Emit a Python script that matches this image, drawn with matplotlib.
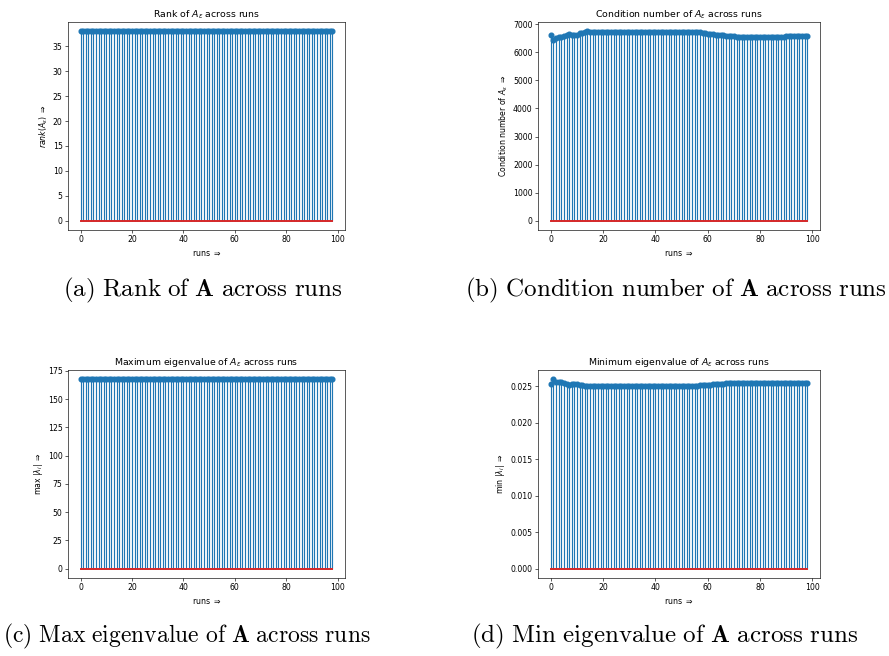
import matplotlib
matplotlib.use("Agg")
import matplotlib.pyplot as plt
import numpy as np

runs = list(range(99))

rank_vals = [38, 38, 38, 38, 38, 38, 38, 38, 38, 38, 38, 38, 38, 38, 38, 38, 38, 38, 38, 38,
             38, 38, 38, 38, 38, 38, 38, 38, 38, 38, 38, 38, 38, 38, 38, 38, 38, 38, 38, 38,
             38, 38, 38, 38, 38, 38, 38, 38, 38, 38, 38, 38, 38, 38, 38, 38, 38, 38, 38, 38,
             38, 38, 38, 38, 38, 38, 38, 38, 38, 38, 38, 38, 38, 38, 38, 38, 38, 38, 38, 38,
             38, 38, 38, 38, 38, 38, 38, 38, 38, 38, 38, 38, 38, 38, 38, 38, 38, 38, 38]

cond_vals = [6620, 6460, 6520, 6540, 6560, 6580, 6640, 6650, 6640, 6620,
             6630, 6680, 6710, 6730, 6750, 6740, 6730, 6730, 6720, 6720,
             6720, 6715, 6720, 6720, 6715, 6720, 6720, 6720, 6725, 6720,
             6725, 6730, 6740, 6740, 6745, 6740, 6740, 6735, 6725, 6720,
             6720, 6715, 6720, 6720, 6725, 6730, 6740, 6740, 6745, 6745,
             6740, 6740, 6745, 6740, 6740, 6740, 6735, 6720, 6700, 6680,
             6670, 6660, 6650, 6640, 6630, 6620, 6610, 6600, 6590, 6580,
             6570, 6560, 6555, 6550, 6550, 6550, 6550, 6550, 6550, 6550,
             6550, 6550, 6550, 6550, 6550, 6550, 6555, 6555, 6560, 6565,
             6570, 6575, 6580, 6580, 6580, 6580, 6580, 6580, 6580]

max_eig = [167.5, 167.5, 167.5, 167.5, 167.5, 167.5, 167.5, 167.5, 167.5, 167.5,
           167.5, 167.5, 167.5, 167.5, 167.5, 167.5, 167.5, 167.5, 167.5, 167.5,
           167.5, 167.5, 167.5, 167.5, 167.5, 167.5, 167.5, 167.5, 167.5, 167.5,
           167.5, 167.5, 167.5, 167.5, 167.5, 167.5, 167.5, 167.5, 167.5, 167.5,
           167.5, 167.5, 167.5, 167.5, 167.5, 167.5, 167.5, 167.5, 167.5, 167.5,
           167.5, 167.5, 167.5, 167.5, 167.5, 167.5, 167.5, 167.5, 167.5, 167.5,
           167.5, 167.5, 167.5, 167.5, 167.5, 167.5, 167.5, 167.5, 167.5, 167.5,
           167.5, 167.5, 167.5, 167.5, 167.5, 167.5, 167.5, 167.5, 167.5, 167.5,
           167.5, 167.5, 167.5, 167.5, 167.5, 167.5, 167.5, 167.5, 167.5, 167.5,
           167.5, 167.5, 167.5, 167.5, 167.5, 167.5, 167.5, 167.5, 167.5]

min_eig = [0.02525, 0.02590, 0.02560, 0.02550, 0.02555, 0.02545, 0.02525, 0.02515, 0.02525, 0.02530,
           0.02525, 0.02520, 0.02510, 0.02500, 0.02495, 0.02495, 0.02495, 0.02495, 0.02497, 0.02497,
           0.02498, 0.02498, 0.02498, 0.02497, 0.02497, 0.02498, 0.02497, 0.02496, 0.02495, 0.02497,
           0.02498, 0.02500, 0.02500, 0.02503, 0.02505, 0.02503, 0.02500, 0.02498, 0.02497, 0.02498,
           0.02500, 0.02497, 0.02495, 0.02495, 0.02496, 0.02497, 0.02497, 0.02496, 0.02495, 0.02495,
           0.02496, 0.02497, 0.02496, 0.02495, 0.02497, 0.02500, 0.02505, 0.02510, 0.02513, 0.02515,
           0.02518, 0.02520, 0.02522, 0.02525, 0.02527, 0.02530, 0.02532, 0.02535, 0.02537, 0.02539,
           0.02540, 0.02541, 0.02541, 0.02541, 0.02541, 0.02541, 0.02541, 0.02541, 0.02541, 0.02541,
           0.02541, 0.02541, 0.02541, 0.02541, 0.02541, 0.02541, 0.02541, 0.02541, 0.02541, 0.02540,
           0.02540, 0.02540, 0.02539, 0.02537, 0.02536, 0.02535, 0.02535, 0.02535, 0.02535]

titles = [r"Rank of $A_\epsilon$ across runs",
          r"Condition number of $A_\epsilon$ across runs",
          r"Maximum eigenvalue of $A_\epsilon$ across runs",
          r"Minimum eigenvalue of $A_\epsilon$ across runs"]
ylabels = [r"$rank(A_\epsilon)$ $\Rightarrow$",
           r"Condition number of $A_\epsilon$ $\Rightarrow$",
           r"max $|\lambda_i|$ $\Rightarrow$",
           r"min $|\lambda_i|$ $\Rightarrow$"]
captions = [r"$\mathrm{(a)\ Rank\ of\ }\mathbf{A}\mathrm{\ across\ runs}$",
            r"$\mathrm{(b)\ Condition\ number\ of\ }\mathbf{A}\mathrm{\ across\ runs}$",
            r"$\mathrm{(c)\ Max\ eigenvalue\ of\ }\mathbf{A}\mathrm{\ across\ runs}$",
            r"$\mathrm{(d)\ Min\ eigenvalue\ of\ }\mathbf{A}\mathrm{\ across\ runs}$"]

W, H = 889, 656
fig = plt.figure(figsize=(W / 100, H / 100), dpi=100)

# axes boxes in pixels: left, right, top, bottom
boxes = [(68, 345, 22, 230), (538, 820, 22, 230),
         (68, 345, 370, 578), (538, 820, 370, 578)]
cap_pos = [(203, 290), (676, 290), (187, 636), (665, 636)]
cap_size = [18, 18, 17, 18]
series = [rank_vals, cond_vals, max_eig, min_eig]

s = 0.56
for i in range(4):
    l, r, t, b = boxes[i]
    ax = fig.add_axes([l / W, 1 - b / H, (r - l) / W, (b - t) / H])
    m, st, bl = ax.stem(runs, series[i], linefmt="C0-", markerfmt="C0o", basefmt="C3-")
    plt.setp(m, markersize=6 * s)
    plt.setp(st, linewidth=1.5 * s)
    plt.setp(bl, linewidth=1.4, zorder=3)
    ax.set_title(titles[i], fontsize=12 * s, pad=6 * s)
    ax.set_ylabel(ylabels[i], fontsize=10 * s, labelpad=4 * s)
    ax.set_xlabel(r"runs $\Rightarrow$", fontsize=10 * s, labelpad=4 * s)
    ax.tick_params(labelsize=10 * s, width=0.8 * s, length=3.5 * s, pad=3.5 * s)
    for sp in ax.spines.values():
        sp.set_linewidth(0.8 * s)
    cx, cy = cap_pos[i]
    fig.text(cx / W, 1 - cy / H, captions[i], ha="center", va="center",
             fontsize=cap_size[i], math_fontfamily="cm")

fig.savefig("out.png", dpi=100)
